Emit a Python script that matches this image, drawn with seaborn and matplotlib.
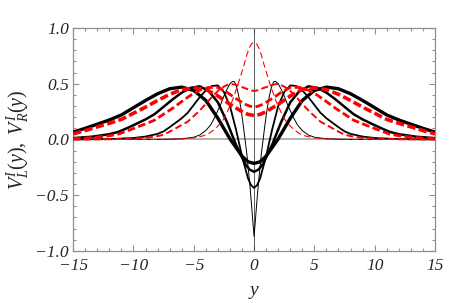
import numpy as np
import pandas as pd
import matplotlib
matplotlib.use("Agg")
import matplotlib.pyplot as plt
import seaborn as sns

# right half (y >= 0) of each curve; curves are even in y
bl1_y = [0, 0.1, 0.2, 0.3, 0.4, 0.5, 0.6, 0.75, 0.9, 1.05, 1.2, 1.35, 1.5, 1.65, 1.8, 2.0,
         2.25, 2.5, 2.75, 3.0, 3.3, 3.6, 4.0, 4.5, 5.0, 6.0, 7.0, 8.0, 15.0]
bl1_v = [-0.87, -0.74, -0.6, -0.47, -0.35, -0.24, -0.13, 0.0, 0.13, 0.25, 0.35, 0.43, 0.49, 0.52, 0.52, 0.5,
         0.45, 0.39, 0.32, 0.26, 0.19, 0.13, 0.08, 0.04, 0.02, 0.006, 0.002, 0.0, 0.0]
rd1_y = [0, 0.2, 0.4, 0.6, 0.8, 1.0, 1.2, 1.4, 1.6, 1.8, 2.0, 2.3, 2.6, 3.0, 3.4, 3.8, 4.3, 5.0, 6.0, 7.0, 8.0, 15.0]
rd1_v = [0.87, 0.86, 0.82, 0.76, 0.68, 0.61, 0.54, 0.47, 0.41, 0.35, 0.30, 0.23, 0.17, 0.12, 0.08, 0.05,
         0.03, 0.015, 0.005, 0.002, 0.0, 0.0]

s2_y = [0, 0.25, 0.5, 1, 1.5, 2, 2.5, 3, 3.5, 4, 4.5, 5, 5.5, 6, 6.5, 7, 7.5, 8, 9, 10, 12, 15]
bl2_v = [-0.435, -0.41, -0.35, -0.15, 0.09, 0.30, 0.425, 0.485, 0.48, 0.44, 0.38, 0.31, 0.24, 0.19, 0.15,
         0.11, 0.073, 0.05, 0.026, 0.013, 0.003, 0.0]
rd2_v = [0.435, 0.44, 0.45, 0.47, 0.49, 0.50, 0.475, 0.435, 0.38, 0.32, 0.26, 0.21, 0.16, 0.13, 0.10,
         0.07, 0.043, 0.03, 0.014, 0.0075, 0.002, 0.0]

s3_y = [0, 0.375, 0.75, 1.5, 2.25, 3, 3.75, 4.5, 5.25, 6, 6.75, 7.5, 8.25, 9, 9.75, 10.5, 11.25, 12, 13.5, 15]
bl3_v = [-0.29, -0.27, -0.217, -0.047, 0.157, 0.333, 0.433, 0.477, 0.463, 0.42, 0.36, 0.293, 0.227, 0.18,
         0.141, 0.103, 0.068, 0.047, 0.024, 0.012]
rd3_v = [0.29, 0.30, 0.317, 0.367, 0.423, 0.467, 0.467, 0.443, 0.397, 0.34, 0.28, 0.227, 0.173, 0.14,
         0.109, 0.077, 0.048, 0.033, 0.016, 0.008]

s4_y = [0, 0.5, 1, 2, 3, 4, 5, 6, 7, 8, 9, 10, 11, 12, 13, 14, 15]
bl4_v = [-0.215, -0.2, -0.15, 0.005, 0.19, 0.35, 0.44, 0.47, 0.455, 0.41, 0.35, 0.285, 0.22, 0.175,
         0.137, 0.10, 0.066]
rd4_v = [0.215, 0.225, 0.25, 0.315, 0.39, 0.45, 0.4625, 0.4475, 0.405, 0.35, 0.29, 0.235, 0.18, 0.145,
         0.113, 0.08, 0.05]

x_ticks = [-15, -10, -5, 0, 5, 10, 15]
x_labels = ["\u221215", "\u221210", "\u22125", "0", "5", "10", "15"]
y_ticks = [-1.0, -0.5, 0.0, 0.5, 1.0]
y_labels = ["\u22121.0", "\u22120.5", "0.0", "0.5", "1.0"]


def mirror(y, v):
    """Builds the full even curve from its right half."""
    y = np.asarray(y, dtype=float)
    v = np.asarray(v, dtype=float)
    return pd.DataFrame({"y": np.concatenate([-y[:0:-1], y]), "V": np.concatenate([v[:0:-1], v])})


sns.set_style("ticks")
plt.rcParams["font.family"] = ["Liberation Serif", "DejaVu Serif"]
plt.rcParams["mathtext.fontset"] = "custom"
plt.rcParams["mathtext.rm"] = "Liberation Serif"
plt.rcParams["mathtext.it"] = "Liberation Serif:italic"
plt.rcParams["lines.scale_dashes"] = False

fig = plt.figure(figsize=(4.63, 3.03), dpi=100)
ax = fig.add_axes([0.158, 0.172, 0.7815, 0.7355])

ax.axhline(0, color="#b0b0b0", lw=1.4, zorder=1)
ax.axvline(0, color="#404040", lw=0.6, zorder=1)

black = [(bl1_y, bl1_v, 0.7), (s2_y, bl2_v, 1.3), (s3_y, bl3_v, 1.8), (s4_y, bl4_v, 2.4)]
red = [(rd1_y, rd1_v, 0.8, (4.5, 2.5)), (s2_y, rd2_v, 1.4, (5, 2.5)),
       (s3_y, rd3_v, 2.0, (5.5, 2.5)), (s4_y, rd4_v, 2.6, (6, 2.5))]

for yy, vv, lw in black:
    d = mirror(yy, vv)
    sns.lineplot(data=d, x="y", y="V", color="black", lw=lw, ax=ax, zorder=3)
for yy, vv, lw, dash in red:
    d = mirror(yy, vv)
    sns.lineplot(data=d, x="y", y="V", color="#ff0000", lw=lw, linestyle=(0, dash), ax=ax, zorder=4)

ax.set_xlim(-15, 15)
ax.set_ylim(-1, 1)
ax.set_xticks(x_ticks, labels=x_labels)
ax.set_yticks(y_ticks, labels=y_labels)
for lab in ax.get_xticklabels() + ax.get_yticklabels():
    lab.set_fontstyle("italic")
    lab.set_fontsize(12.5)
ax.set_xticks(np.arange(-15, 16, 1), minor=True)
ax.set_yticks(np.arange(-1, 1.01, 0.1), minor=True)
ax.tick_params(which="both", direction="in", top=True, right=True, color="#909090", width=0.8)
ax.tick_params(which="major", length=4)
ax.tick_params(axis="x", which="major", pad=5)
ax.tick_params(axis="y", which="major", pad=3)
ax.tick_params(which="minor", length=2.2)
for sp in ax.spines.values():
    sp.set_color("#909090")
    sp.set_linewidth(0.9)

ax.set_xlabel(r"$y$", fontsize=14, labelpad=7)
ax.set_ylabel(r"$V_L^I(y),\ V_R^I(y)$", fontsize=14.5, labelpad=3)

fig.savefig("out.png", dpi=100)
